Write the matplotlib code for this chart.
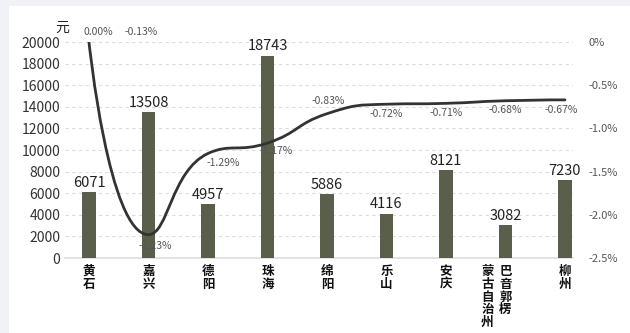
import numpy as np
import matplotlib
matplotlib.use("Agg")
import matplotlib.pyplot as plt
from matplotlib.path import Path
from matplotlib.patches import PathPatch, Rectangle

plt.rcParams['font.family'] = ['Noto Sans CJK SC', 'DejaVu Sans']
plt.rcParams['axes.unicode_minus'] = False

# ── データ ──────────────────────────────────────────────
cities = ['黄石', '嘉兴', '德阳', '珠海', '绵阳', '乐山', '安庆', '巴音郭楞蒙古自治州', '柳州']
amount = [6071, 13508, 4957, 18743, 5886, 4116, 8121, 3082, 7230]
change = [0.00, -2.23, -1.29, -1.17, -0.83, -0.72, -0.71, -0.68, -0.67]
extra_label = '-0.13%'

left_ticks = [0, 2000, 4000, 6000, 8000, 10000, 12000, 14000, 16000, 18000, 20000]
right_ticks = [0, -0.5, -1.0, -1.5, -2.0, -2.5]
right_ticklabels = ['0%', '-0.5%', '-1.0%', '-1.5%', '-2.0%', '-2.5%']

# 折れ線ラベルのずらし量 (pt)
lbl_off = [(7, 7), (5, -8), (11, -7), (6, -6), (1, 9), (0, -7), (0, -7), (0, -7), (-3, -7)]

BAR = '#5a5f4b'
LINE = '#333333'

fig = plt.figure(figsize=(6.3, 3.33), dpi=100)
fig.patch.set_facecolor('#f0f2f5')
fig.patches.append(Rectangle((9 / 630, 0), 1, 1 - 6 / 333, transform=fig.transFigure,
                             facecolor='white', edgecolor='none', zorder=-10))

ax = fig.add_axes([65 / 630, 1 - 258 / 333, 508 / 630, 216 / 333])
ax.set_facecolor('none')
x = np.arange(len(cities))
ax.bar(x, amount, width=0.22, color=BAR, zorder=3)
ax.set_ylim(0, 20000)
ax.set_xlim(-0.403, 8.135)
ax.set_yticks(left_ticks)
ax.set_yticklabels([str(t) for t in left_ticks], fontsize=10, color='#333333')
ax.tick_params(axis='y', length=0, pad=3.5)
ax.set_xticks([])
for s in ['top', 'right', 'left']:
    ax.spines[s].set_visible(False)
ax.spines['bottom'].set_color('#dddddd')
ax.spines['bottom'].set_linewidth(1.2)
ax.grid(axis='y', linestyle=(0, (3, 3)), color='#dcdcdc', linewidth=0.8, zorder=0)

for xi, v in zip(x, amount):
    ax.annotate(str(v), (xi, v), xytext=(0, 1.5), textcoords='offset points',
                ha='center', va='bottom', fontsize=10.5, color='#222222', zorder=5)

# 縦書きカテゴリ (4文字ごとに列, 右から左)
for xi, name in zip(x, cities):
    cols = [name[i:i + 4] for i in range(0, len(name), 4)] if len(name) > 5 else [name]
    if len(cols) > 2:
        cols = [cols[0], ''.join(cols[1:])]
    for ci, col in enumerate(cols):
        ax.annotate('\n'.join(col), (xi, 0), xycoords=('data', 'axes fraction'),
                    xytext=(-13 * ci, -5), textcoords='offset points',
                    ha='center', va='top', fontsize=9, fontweight='bold',
                    color='#111111', linespacing=0.98, annotation_clip=False)

ax.text(-0.45, 21300, '元', ha='center', va='center', fontsize=10, color='#222222')

# 右軸: 折れ線 (echarts 風スムージング)
ax2 = ax.twinx()
ax2.set_ylim(-2.5, 0)
ax2.set_yticks(right_ticks)
ax2.set_yticklabels(right_ticklabels, fontsize=8, color='#555555')
ax2.tick_params(axis='y', length=0, pad=11)
for s in ax2.spines.values():
    s.set_visible(False)

sx, sy = 59.5, 86.0  # px / 単位
px = np.array(x, float) * sx
py = np.array(change) * sy
n = len(px)
smooth = 0.5
verts = [(px[0], py[0])]
codes = [Path.MOVETO]
cp0 = (px[0], py[0])
for i in range(1, n):
    xx, yy = px[i], py[i]
    if i == n - 1:
        cp1 = (xx, yy)
        nxt = None
    else:
        pxv, pyv = px[i - 1], py[i - 1]
        nx_, ny_ = px[i + 1], py[i + 1]
        vx, vy = nx_ - pxv, ny_ - pyv
        lp = np.hypot(xx - pxv, yy - pyv)
        ln = np.hypot(nx_ - xx, ny_ - yy)
        r = ln / (ln + lp)
        ncx, ncy = xx + vx * smooth * r, yy + vy * smooth * r
        ncx = max(min(ncx, max(nx_, xx)), min(nx_, xx))
        ncy = max(min(ncy, max(ny_, yy)), min(ny_, yy))
        vx, vy = ncx - xx, ncy - yy
        c1x, c1y = xx - vx * lp / ln, yy - vy * lp / ln
        c1x = max(min(c1x, max(pxv, xx)), min(pxv, xx))
        c1y = max(min(c1y, max(pyv, yy)), min(pyv, yy))
        vx, vy = xx - c1x, yy - c1y
        ncx, ncy = xx + vx * ln / lp, yy + vy * ln / lp
        cp1 = (c1x, c1y)
        nxt = (ncx, ncy)
    verts += [cp0, cp1, (xx, yy)]
    codes += [Path.CURVE4] * 3
    cp0 = nxt
verts = [(vx_ / sx, vy_ / sy) for vx_, vy_ in verts]
ax2.add_patch(PathPatch(Path(verts, codes), facecolor='none', edgecolor=LINE,
                        linewidth=2.0, zorder=6, capstyle='round'))

for xi, v, off in zip(x, change, lbl_off):
    ax2.annotate(f'{v:.2f}%', (xi, v), xytext=off, textcoords='offset points',
                 ha='center', va='center', fontsize=7.5, color='#555555', zorder=7)
ax2.annotate(extra_label, (1, 0), xytext=(-5, 7), textcoords='offset points',
             ha='center', va='center', fontsize=7.5, color='#555555')

fig.savefig('out.png', dpi=100, facecolor=fig.get_facecolor())
